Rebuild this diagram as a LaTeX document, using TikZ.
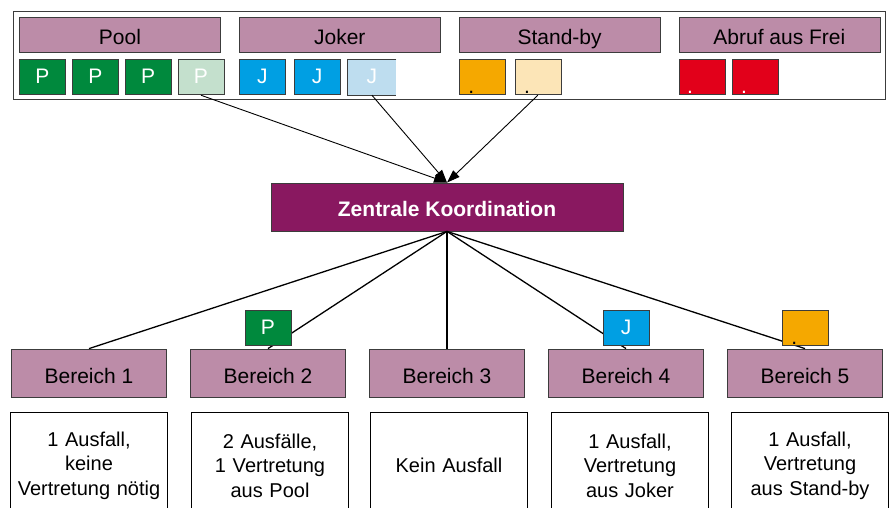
\documentclass[tikz,border=0pt]{standalone}
\usepackage{fontspec}
\setmainfont{Liberation Sans}
\usetikzlibrary{positioning,arrows.meta}

\definecolor{kopfrosa}{RGB}{188,140,168}
\definecolor{poolgruen}{RGB}{0,137,61}
\definecolor{poolhell}{RGB}{196,224,205}
\definecolor{jokerblau}{RGB}{0,159,227}
\definecolor{jokerhell}{RGB}{190,221,239}
\definecolor{standbyorange}{RGB}{245,168,0}
\definecolor{standbyhell}{RGB}{252,229,183}
\definecolor{freirot}{RGB}{226,0,26}
\definecolor{koordlila}{RGB}{137,24,96}
\definecolor{rand}{RGB}{60,60,60}

\begin{document}
\begin{tikzpicture}[
	x=1pt, y=-1pt,
	font=\fontsize{21}{25}\selectfont,
	grow=down,
	level distance=166pt,
	sibling distance=179pt,
	edge from parent/.style={draw, line width=1.3pt},
	edge from parent path={(\tikzparentnode.south) -- (\tikzchildnode.north)},
	kopf/.style={draw=rand, line width=0.8pt, fill=kopfrosa, minimum width=201pt, minimum height=35pt, inner sep=0pt, text height=20pt, text depth=0pt},
	kasten/.style={draw=rand, line width=0.8pt, minimum width=46pt, minimum height=35pt, inner sep=0pt, text=white, text height=15pt, text depth=2pt},
	punkt/.style={anchor=base west, inner sep=0pt},
	zentrale/.style={draw=rand, line width=0.8pt, fill=koordlila, minimum width=352pt, minimum height=48pt, text=white, text height=18pt, text depth=0pt, font=\fontsize{21}{25}\selectfont\bfseries},
	bereich/.style={draw=rand, line width=0.8pt, fill=kopfrosa, minimum width=155pt, minimum height=48pt, text height=20pt, text depth=0pt},
	info/.style={draw=black, line width=0.8pt, minimum width=155pt, minimum height=106pt, text width=150pt, align=center, font=\fontsize{20}{24.5}\selectfont},
	pfeil/.style={-{Triangle[length=13pt,width=9pt]}, line width=0.9pt},
	]
\useasboundingbox (0,0) rectangle (892,508);

% Ressourcen oben
\draw[line width=0.8pt, draw=rand] (13,11) rectangle (885,99);
\node[kopf] (pool) at (120,34.5) {Pool};
\node[kopf, right=18pt of pool] (joker) {Joker};
\node[kopf, right=18pt of joker] (standby) {Stand-by};
\node[kopf, right=18pt of standby] (abruf) {Abruf aus Frei};

\node[kasten, fill=poolgruen, below right=7pt and 0pt of pool.south west] (p1) {P};
\node[kasten, fill=poolgruen, right=6pt of p1] (p2) {P};
\node[kasten, fill=poolgruen, right=6pt of p2] (p3) {P};
\node[kasten, fill=poolhell, right=6pt of p3] (p4) {P};

\node[kasten, fill=jokerblau, below right=7pt and 0pt of joker.south west] (j1) {J};
\node[kasten, fill=jokerblau, right=8pt of j1] (j2) {J};
\node[kasten, draw=none, fill=jokerhell, minimum width=48pt, right=7pt of j2] (j3) {J};
\draw[line width=0.8pt, draw=rand] (j3.north east) -- (j3.north west) -- (j3.south west) -- (j3.south east);

\node[kasten, fill=standbyorange, below right=7pt and 0pt of standby.south west] (s1) {};
\node[kasten, fill=standbyhell, right=9pt of s1] (s2) {};
\node[punkt] at ([xshift=9.5pt,yshift=1.5pt]s1.south west) {.};
\node[punkt] at ([xshift=9.5pt,yshift=1.5pt]s2.south west) {.};

\node[kasten, fill=freirot, below right=7pt and 0pt of abruf.south west] (a1) {};
\node[kasten, fill=freirot, right=7pt of a1] (a2) {};
\node[punkt, text=white] at ([xshift=8.5pt,yshift=1.5pt]a1.south west) {.};
\node[punkt, text=white] at ([xshift=8.5pt,yshift=1.5pt]a2.south west) {.};

% Koordination und Bereiche
\node[zentrale] (zk) at (447,207) {Zentrale Koordination}
	child { node[bereich] (b1) {Bereich 1} }
	child { node[bereich] (b2) {Bereich 2} }
	child { node[bereich] (b3) {Bereich 3} }
	child { node[bereich] (b4) {Bereich 4} }
	child { node[bereich] (b5) {Bereich 5} }
;

\draw[pfeil] (p4.south) -- (zk.north);
\draw[pfeil] (j3.south) -- (zk.north);
\draw[pfeil] (s2.south) -- (zk.north);

\node[kasten, fill=poolgruen, above=3pt of b2] (pb2) {P};
\node[kasten, fill=jokerblau, above=3pt of b4] (jb4) {J};
\node[kasten, fill=standbyorange, above=3pt of b5] (sb5) {};
\node[punkt] at ([xshift=9.5pt,yshift=1.5pt]sb5.south west) {.};

% Beschreibung unten
\node[info, below=15pt of b1] (i1) {1 Ausfall,\\keine\\Vertretung nötig};
\node[info, below=15pt of b2, xshift=2pt] (i2) {2 Ausfälle,\\1 Vertretung\\aus Pool};
\node[info, below=15pt of b3, xshift=2pt] (i3) {Kein Ausfall};
\node[info, below=15pt of b4, xshift=4pt] (i4) {1 Ausfall,\\Vertretung\\aus Joker};
\node[info, below=15pt of b5, xshift=5pt] (i5) {1 Ausfall,\\Vertretung\\aus Stand-by};
\end{tikzpicture}
\end{document}
